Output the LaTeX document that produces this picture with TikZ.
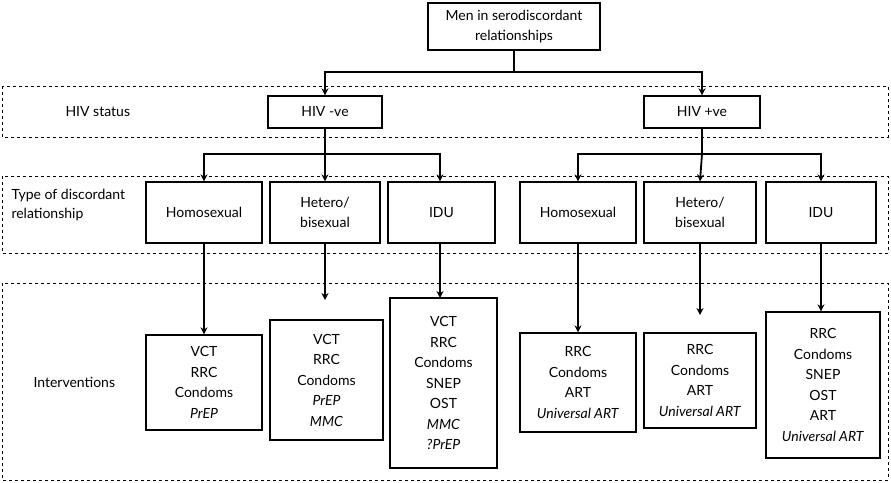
\documentclass[tikz,border=0pt]{standalone}
\usepackage{fontspec}
\setmainfont{Lato}
\usetikzlibrary{arrows.meta}
\begin{document}
\begin{tikzpicture}[x=1pt,y=-1pt,
 box/.style={draw,line width=1.3pt,align=center,inner sep=0pt,font=\fontsize{14}{20.5}\selectfont},
 band/.style={draw,dashed,line width=0.6pt},
 lab/.style={align=left,anchor=west,font=\fontsize{14}{19}\selectfont},
 arr/.style={line width=1.8pt,-{Stealth[length=7pt,width=7pt]}},
 ln/.style={line width=1.8pt}]
\useasboundingbox (0,0) rectangle (891,482);
\draw[band] (2,86) rectangle (888,137);
\draw[band] (2,176) rectangle (888,253);
\draw[band] (2,283) rectangle (888,480);
\node[lab] (l1) at (62,112) {HIV status};
\node[lab] (l2) at (8,205) {Type of discordant\\relationship};
\node[lab] (l3) at (30,382) {Interventions};
\node[box,minimum width=172pt,minimum height=47pt] (top) at (514,26.5) {Men in serodiscordant\\relationships};
\node[box,minimum width=114pt,minimum height=32pt] (neg) at (325,112) {HIV -ve};
\node[box,minimum width=116pt,minimum height=32pt] (pos) at (702,112) {HIV +ve};
\foreach \n/\c/\w/\t in {a/204/116/Homosexual,b/325/110/{Hetero/\\bisexual},c/441.5/107/IDU,d/578/116/Homosexual,e/700/112/{Hetero/\\bisexual},f/821/110/IDU}
 \node[box,minimum width=\w pt,minimum height=61pt] (\n) at (\c,212.5) {\t};
\node[box,minimum width=116pt,minimum height=95pt] (ia) at (204,382.5) {VCT\\RRC\\Condoms\\\textit{PrEP}};
\node[box,minimum width=113pt,minimum height=120pt] (ib) at (326.5,380) {VCT\\RRC\\Condoms\\\textit{PrEP}\\\textit{MMC}};
\node[box,minimum width=107pt,minimum height=170pt] (ic) at (443.5,383) {VCT\\RRC\\Condoms\\SNEP\\OST\\\textit{MMC}\\\textit{?PrEP}};
\node[box,minimum width=116pt,minimum height=99pt] (id) at (578,382.5) {RRC\\Condoms\\ART\\\textit{Universal ART}};
\node[box,minimum width=112pt,minimum height=95pt] (ie) at (700,380.5) {RRC\\Condoms\\ART\\\textit{Universal ART}};
\node[box,minimum width=114pt,minimum height=146pt] (if) at (823,385) {RRC\\Condoms\\SNEP\\OST\\ART\\\textit{Universal ART}};
\coordinate (j1) at (514,72);
\draw[ln] (top.south) -- (j1);
\draw[arr] (j1) -| (neg.north);
\draw[arr] (j1) -| (pos.north);
\coordinate (j2) at (325,154);
\coordinate (j3) at (702,154);
\coordinate (cs) at (440,243);
\coordinate (ct) at (440,298);
\draw[ln] (neg.south) -- (j2);
\draw[ln] (pos.south) -- (j3);
\draw[arr] (j2) -| (a.north); \draw[arr] (j2) -- (b.north); \draw[arr] (j2) -| (c.north -| cs);
\draw[arr] (j3) -| (d.north); \draw[arr] (j3) -- (e.north); \draw[arr] (j3) -| (f.north);
\draw[arr] (a.south) -- (ia.north);
\draw[arr] (b.south) -- (b.south |- 0,300);
\draw[arr] (cs) -- (ct);
\draw[arr] (d.south) -- (id.north);
\draw[arr] (e.south) -- (e.south |- 0,315);
\draw[arr] (f.south) -- (f.south |- if.north);
\end{tikzpicture}
\end{document}
